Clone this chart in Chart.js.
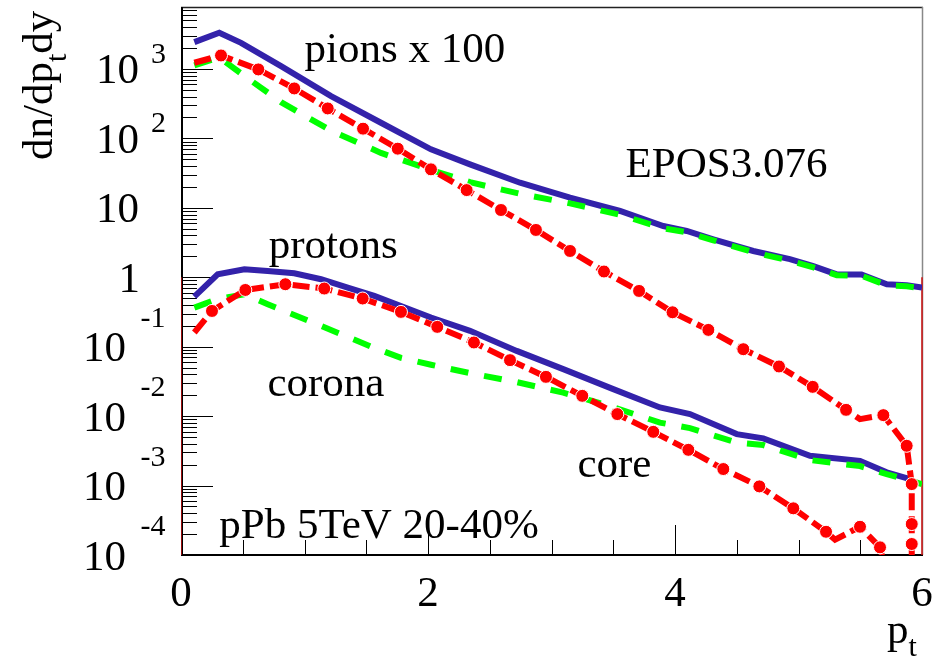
<!DOCTYPE html>
<html><head><meta charset="utf-8">
<script src="https://cdn.jsdelivr.net/npm/chart.js@4.4.1/dist/chart.umd.min.js"></script>
<style>html,body{margin:0;padding:0;background:#fff;}canvas{display:block;}</style>
</head><body>
<canvas id="c" width="948" height="660"></canvas>
<script>
// ---- data ----
const ptPionTotal = [0.108, 0.31, 0.486, 0.81, 1.215, 1.619, 2.024, 2.34, 2.745, 3.15, 3.555, 3.905, 4.095, 4.31, 4.634, 4.93, 5.12, 5.31, 5.51, 5.715, 5.876, 6.0];
const pionTotal   = [2430, 3320, 2380, 1097, 406, 168, 69.5, 42.3, 23.0, 14.0, 9.0, 5.47, 4.64, 3.52, 2.39, 1.82, 1.45, 1.10, 1.10, 0.793, 0.767, 0.711];
const pionCorona  = [1122, 1463, 861, 333, 129, 61.7, 35.2, 23.4, 15.9, 11.6, 7.93, 5.07, 4.44, 3.41, 2.29, 1.73, 1.39, 1.07, 1.05, 0.767, 0.742, 0.695];
const ptPionCore  = [0.108, 0.324, 0.626, 0.917, 1.188, 1.474, 1.755, 2.024, 2.313, 2.591, 2.874, 3.15, 3.425, 3.709, 3.98, 4.27, 4.553, 4.842, 5.115, 5.385, 5.498, 5.687, 5.876, 5.917, 5.917, 5.917, 5.917];
const pionCore    = [1228, 1564, 984, 524, 270, 138, 71.1, 35.8, 18.0, 9.3, 4.80, 2.39, 1.21, 0.635, 0.313, 0.1745, 0.092, 0.0519, 0.0264, 0.01232, 0.00906, 0.01033, 0.00374, 0.00105, 0.000279, 0.000144, 0.00003];
const pionCoreMarked = [0,1,1,1,1,1,1,1,1,1,1,1,1,1,1,1,1,1,1,1,0,1,1,1,1,1,0];

const ptProtonTotal = [0.108, 0.297, 0.513, 0.702, 0.917, 1.134, 1.35, 1.565, 1.781, 2.024, 2.34, 2.718, 3.095, 3.5, 3.878, 4.121, 4.5, 4.715, 5.093, 5.498, 5.714, 5.903];
const protonTotal   = [0.527, 1.10, 1.30, 1.23, 1.14, 0.936, 0.711, 0.538, 0.386, 0.263, 0.169, 0.0870, 0.0475, 0.0245, 0.01334, 0.01069, 0.00551, 0.00478, 0.00268, 0.00227, 0.00155, 0.00124];
const ptProtonCorona = [0.108, 0.297, 0.513, 0.702, 0.917, 1.134, 1.35, 1.565, 1.781, 2.024, 2.34, 2.718, 3.095, 3.5, 3.878, 4.121, 4.5, 4.715, 5.093, 5.498, 5.714, 5.903, 6.0];
const protonCorona   = [0.366, 0.487, 0.569, 0.409, 0.286, 0.199, 0.138, 0.096, 0.069, 0.055, 0.0416, 0.0309, 0.0218, 0.01347, 0.00806, 0.00672, 0.00416, 0.00383, 0.00233, 0.00191, 0.00146, 0.00118, 0.00105];
const ptProtonCore = [0.108, 0.251, 0.521, 0.845, 1.16, 1.471, 1.781, 2.075, 2.372, 2.664, 2.955, 3.249, 3.533, 3.824, 4.108, 4.391, 4.683, 4.958, 5.223, 5.296, 5.498, 5.66, 5.74];
const protonCore   = [0.160, 0.327, 0.656, 0.793, 0.688, 0.494, 0.317, 0.193, 0.115, 0.0640, 0.0368, 0.0196, 0.0107, 0.00594, 0.00327, 0.00173, 0.000973, 0.000470, 0.000216, 0.000166, 0.000255, 0.000129, 0.00003];
const protonCoreMarked = [0,1,1,1,1,1,1,1,1,1,1,1,1,1,1,1,1,1,1,0,1,1,0];

const edgeX = [0, 0, 3, 6, 6];
const edgeY = [1, 0.00001, null, 0.00001, 1];

const xTickLabels = ['0', '2', '4', '6'];
const xTickValues = [0, 2, 4, 6];
const yDecades = [-4, -3, -2, -1, 0, 1, 2, 3];

const annotations = [
  {text: 'pions x 100', x: 1.0, y: 1250},
  {text: 'EPOS3.076', x: 3.6, y: 28},
  {text: 'protons', x: 0.71, y: 1.9},
  {text: 'corona', x: 0.7, y: 0.0195},
  {text: 'core', x: 3.21, y: 0.00135},
  {text: 'pPb 5TeV 20-40%', x: 0.31, y: 0.000173}
];

// ---- styling ----
const SERIF = '"Liberation Serif", "Times New Roman", serif';
const BLUE = '#3322aa', RED = '#ff0000', GREEN = '#00ff00';

const pts = (xs, ys) => xs.map((x, i) => ({x: x, y: ys[i]}));

function solid(label, xs, ys) {
  return {label, data: pts(xs, ys), borderColor: BLUE, borderWidth: 6, pointRadius: 0, order: 2, tension: 0};
}
function corona(label, xs, ys) {
  return {label, data: pts(xs, ys), borderColor: GREEN, borderWidth: 6, borderDash: [18, 16], pointRadius: 0, order: 1, tension: 0};
}
function core(label, xs, ys, marked) {
  return {label, data: pts(xs, ys), borderColor: RED, borderWidth: 6, borderDash: [17, 6],
    pointRadius: marked.map(m => m ? 6.5 : 0), pointBackgroundColor: RED, pointBorderColor: '#ffffff',
    pointBorderWidth: 1, pointHoverRadius: 0, order: 0, tension: 0};
}

const framePlugin = {
  id: 'frame',
  beforeDatasetsDraw(chart) {
    const {ctx, chartArea: a, scales: {x, y}} = chart;
    ctx.save();
    ctx.strokeStyle = '#000';
    ctx.lineWidth = 1;
    yDecades.forEach(k => {
      for (let m = 1; m <= 9; m++) {
        const v = m * Math.pow(10, k);
        if (v > y.max) continue;
        const py = Math.round(y.getPixelForValue(v)) + 0.5;
        const len = m === 1 ? 32 : 16;
        ctx.beginPath(); ctx.moveTo(a.left, py); ctx.lineTo(a.left + len, py); ctx.stroke();
      }
    });
    for (let i = 0; i <= 12; i++) {
      const v = i * 0.5;
      const px = Math.round(x.getPixelForValue(v)) + 0.5;
      const len = (i % 4 === 0) ? 30 : 15;
      ctx.beginPath(); ctx.moveTo(px, a.bottom); ctx.lineTo(px, a.bottom - len); ctx.stroke();
    }
    // frame
    ctx.lineWidth = 1.5; ctx.strokeStyle = '#222';
    ctx.beginPath(); ctx.moveTo(a.left, a.top + 0.5); ctx.lineTo(a.right + 1, a.top + 0.5); ctx.stroke();
    ctx.strokeStyle = '#888';
    ctx.beginPath(); ctx.moveTo(a.right + 0.5, a.top); ctx.lineTo(a.right + 0.5, a.bottom); ctx.stroke();
    ctx.lineWidth = 2; ctx.strokeStyle = '#000';
    ctx.beginPath(); ctx.moveTo(a.left + 1, a.top); ctx.lineTo(a.left + 1, a.bottom + 1); ctx.stroke();
    ctx.beginPath(); ctx.moveTo(a.left, a.bottom); ctx.lineTo(a.right + 1, a.bottom); ctx.stroke();
    ctx.restore();
  },
  afterDraw(chart) {
    const {ctx, chartArea: a, scales: {x, y}} = chart;
    ctx.save();
    ctx.fillStyle = '#000';
    const big = '43px ' + SERIF, small = '30px ' + SERIF;
    // y tick labels
    yDecades.forEach(k => {
      const py = y.getPixelForValue(Math.pow(10, k));
      ctx.font = big; ctx.textAlign = 'right'; ctx.textBaseline = 'alphabetic';
      if (k === 0) { ctx.fillText('1', 140, py + 14.5); return; }
      if (k === 1) { ctx.fillText('10', 139, py + 14.5); return; }
      if (k > 1) {
        ctx.fillText('10', 139, py + 14.5);
        ctx.font = small; ctx.textAlign = 'left';
        ctx.fillText(String(k), 151, py - 6);
      } else {
        ctx.fillText('10', 126, py + 14.5);
        ctx.font = small; ctx.textAlign = 'left';
        ctx.fillText('-' + String(-k), 140.5, py - 20);
      }
    });
    // x tick labels
    ctx.font = big; ctx.textAlign = 'center'; ctx.textBaseline = 'alphabetic';
    xTickValues.forEach((v, i) => ctx.fillText(xTickLabels[i], x.getPixelForValue(v), a.bottom + 51));
    // x title p_t
    ctx.textAlign = 'left';
    ctx.font = big; ctx.fillText('p', 887, 643);
    const wp = ctx.measureText('p').width;
    ctx.font = small; ctx.fillText('t', 887 + wp, 656);
    // y title dn/dp_t dy
    ctx.save();
    ctx.translate(51.5, 160);
    ctx.rotate(-Math.PI / 2);
    ctx.font = big; ctx.fillText('dn/dp', 0, 0);
    let off = ctx.measureText('dn/dp').width;
    ctx.font = small; ctx.fillText('t', off, 14);
    off += ctx.measureText('t').width;
    ctx.font = big; ctx.fillText('dy', off, 0);
    ctx.restore();
    // annotations
    ctx.font = big; ctx.textAlign = 'left';
    annotations.forEach(t => ctx.fillText(t.text, x.getPixelForValue(t.x), y.getPixelForValue(t.y)));
    ctx.restore();
  }
};

new Chart(document.getElementById('c'), {
  type: 'line',
  data: {
    datasets: [
      solid('pions total', ptPionTotal, pionTotal),
      corona('pions corona', ptPionTotal, pionCorona),
      core('pions core', ptPionCore, pionCore, pionCoreMarked),
      solid('protons total', ptProtonTotal, protonTotal),
      corona('protons corona', ptProtonCorona, protonCorona),
      core('protons core', ptProtonCore, protonCore, protonCoreMarked),
      {label: 'edge', data: pts(edgeX, edgeY), borderColor: '#cc1111', borderWidth: 1.5, pointRadius: 0,
       spanGaps: false, order: 3, clip: {left: 0, right: 3, top: 0, bottom: 0}}
    ]
  },
  options: {
    responsive: false,
    devicePixelRatio: 1,
    animation: false,
    layout: {padding: {left: 181, top: 7, right: 26, bottom: 105}},
    plugins: {legend: {display: false}, tooltip: {enabled: false}},
    events: [],
    scales: {
      x: {type: 'linear', min: 0, max: 6, display: false},
      y: {type: 'logarithmic', min: 0.0001, max: 7800, display: false}
    }
  },
  plugins: [framePlugin]
});
</script>
</body></html>
